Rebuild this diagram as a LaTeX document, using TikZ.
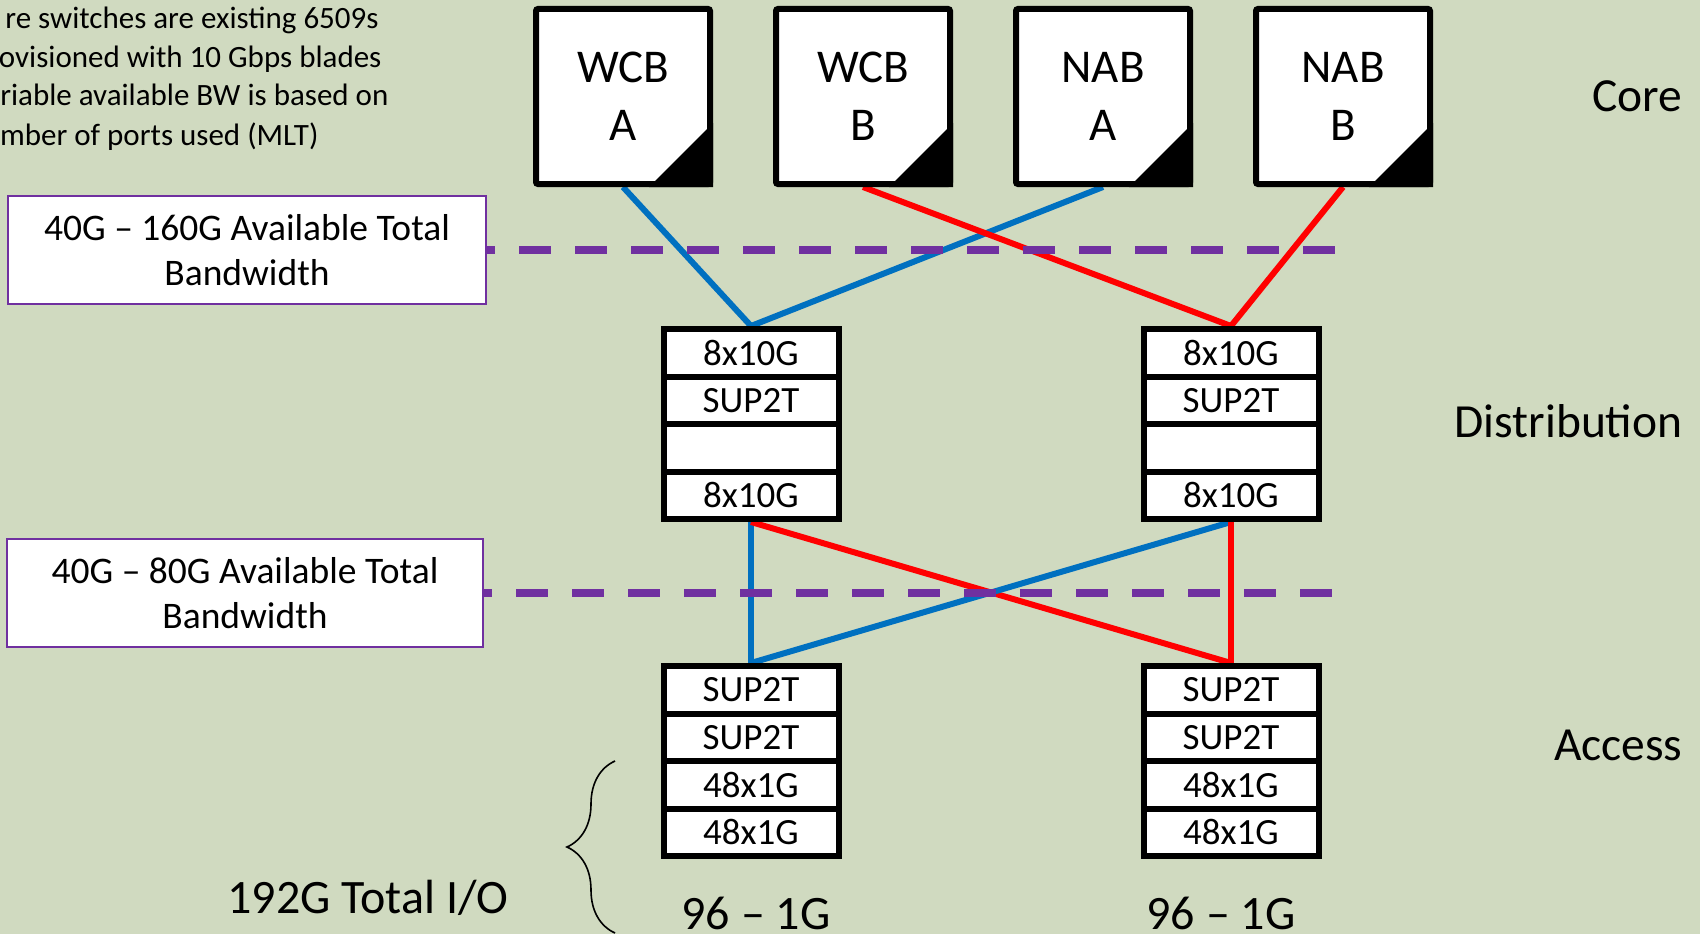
\documentclass[tikz,border=0pt]{standalone}
\usepackage{fontspec}
\setmainfont{Carlito}
\usepackage{tikz}
\usetikzlibrary{decorations.pathreplacing}

\definecolor{slidebg}{RGB}{208,218,192}
\definecolor{linkblue}{RGB}{0,112,192}
\definecolor{linkred}{RGB}{255,0,0}
\definecolor{bwpurple}{RGB}{112,48,160}

\pgfdeclarelayer{background}
\pgfsetlayers{background,main}

\begin{document}
\begin{tikzpicture}[x=1pt,y=-1pt,
  core/.style={draw=black, line width=6pt, fill=white, rounded corners=2pt, minimum width=174pt, minimum height=175pt, inner sep=0pt, align=center, font=\fontsize{47}{58}\selectfont},
  slot/.style={draw=black, line width=6pt, fill=white, minimum width=175pt, minimum height=47.5pt, inner sep=0pt, font=\fontsize{37}{42}\selectfont},
  bwbox/.style={draw=bwpurple, line width=2pt, fill=white, minimum height=108pt, align=center, font=\fontsize{37.5}{45}\selectfont},
  bwline/.style={draw=bwpurple, line width=8pt, dash pattern=on 32pt off 24pt, dash phase=24pt},
  link/.style={line width=6pt},
  level/.style={anchor=east, font=\fontsize{47.5}{55}\selectfont},
  note/.style={anchor=base east, font=\fontsize{31}{38}\selectfont},
  bigtext/.style={font=\fontsize{48}{56}\selectfont}]
%\draw[help lines, color=gray!30, dashed] (0,0) grid[step=50] (1700,934);
\useasboundingbox (0,0) rectangle (1700,934);
\begin{pgfonlayer}{background}
\fill[slidebg] (0,0) rectangle (1700,934);
\end{pgfonlayer}

\node[note] (note1) at (382,29) {re switches are existing 6509s};
\node[note] (note2) at (385,68) {ovisioned with 10 Gbps blades};
\node[note] (note3) at (392,106) {riable available BW is based on};
\node[note] (note4) at (322,145) {mber of ports used (MLT)};


\node[core] (wcbA) at (623,96.5) {WCB\\A};
\fill (wcbA.south east) -- ++(-64,0) -- ++(64,-64) -- cycle;

\node[core] (wcbB) at (863,96.5) {WCB\\B};
\fill (wcbB.south east) -- ++(-64,0) -- ++(64,-64) -- cycle;

\node[core] (nabA) at (1103,96.5) {NAB\\A};
\fill (nabA.south east) -- ++(-64,0) -- ++(64,-64) -- cycle;

\node[core] (nabB) at (1343,96.5) {NAB\\B};
\fill (nabB.south east) -- ++(-64,0) -- ++(64,-64) -- cycle;


\node[slot] (distL1) at (751,352.75) {8x10G};
\node[slot] (distL2) at (751,400.25) {SUP2T};
\node[slot] (distL3) at (751,447.75) {};
\node[slot] (distL4) at (751,495.25) {8x10G};

\node[slot] (distR1) at (1231,352.75) {8x10G};
\node[slot] (distR2) at (1231,400.25) {SUP2T};
\node[slot] (distR3) at (1231,447.75) {};
\node[slot] (distR4) at (1231,495.25) {8x10G};


\node[slot] (accL1) at (751,689.75) {SUP2T};
\node[slot] (accL2) at (751,737.25) {SUP2T};
\node[slot] (accL3) at (751,784.75) {48x1G};
\node[slot] (accL4) at (751,832.25) {48x1G};

\node[slot] (accR1) at (1231,689.75) {SUP2T};
\node[slot] (accR2) at (1231,737.25) {SUP2T};
\node[slot] (accR3) at (1231,784.75) {48x1G};
\node[slot] (accR4) at (1231,832.25) {48x1G};


\begin{pgfonlayer}{background}
\draw[link, linkblue] (wcbA.south) -- (distL1.north);
\draw[link, linkblue] (nabA.south) -- (distL1.north);
\draw[link, linkred] (wcbB.south) -- (distR1.north);
\draw[link, linkred] (nabB.south) -- (distR1.north);

\draw[link, linkblue] (distL4.south) -- (accL1.north);
\draw[link, linkred] (distL4.south) -- (accR1.north);
\draw[link, linkblue] (distR4.south) -- (accL1.north);
\draw[link, linkred] (distR4.south) -- (accR1.north);
\end{pgfonlayer}


\node[bwbox, minimum width=478pt] (bw1) at (247,250) {40G – 160G Available Total\\Bandwidth};
\coordinate (bwend1) at (1335,250);
\draw[bwline] (bw1.east) -- (bwend1);

\node[bwbox, minimum width=476pt] (bw2) at (245,593) {40G – 80G Available Total\\Bandwidth};
\coordinate (bwend2) at (1332,593);
\draw[bwline] (bw2.east) -- (bwend2);


\node[level] (lvcore) at (1686,96) {Core};
\node[level] (lvdist) at (1686,421) {Distribution};
\node[level] (lvacc) at (1686,745) {Access};


\draw[line width=1.6pt, decoration={brace, amplitude=48pt}, decorate] (615,933) -- (615,761);
\node[bigtext] (totio) at (368,898) {192G Total I/O};
\node[bigtext] (portsL) at (756,913) {96 – 1G};
\node[bigtext] (portsR) at (1221,913) {96 – 1G};

\end{tikzpicture}
\end{document}
